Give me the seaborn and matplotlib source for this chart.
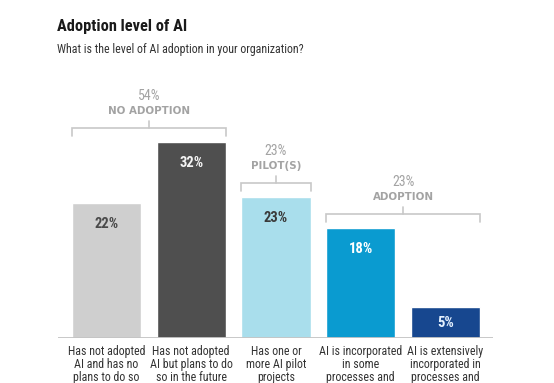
import matplotlib
matplotlib.use("Agg")
import matplotlib.pyplot as plt
import seaborn as sns
import pandas as pd

# ---- data ----
categories = [
    "Has not adopted\nAI and has no\nplans to do so",
    "Has not adopted\nAI but plans to do\nso in the future",
    "Has one or\nmore AI pilot\nprojects",
    "AI is incorporated\nin some\nprocesses and",
    "AI is extensively\nincorporated in\nprocesses and",
]
values = [22, 32, 23, 18, 5]
value_labels = ["22%", "32%", "23%", "18%", "5%"]
bar_colors = ["#cfcfcf", "#4f4f4f", "#a9deec", "#0a9bd0", "#17478f"]
label_colors = ["#4a4a4a", "#f4f4f4", "#3a3a3a", "#ffffff", "#e6f2ff"]

group_members = [[0, 1], [2], [3, 4]]
group_pcts = ["54%", "23%", "23%"]
group_names = ["NO ADOPTION", "PILOT(S)", "ADOPTION"]

title = "Adoption level of AI"
subtitle = "What is the level of AI adoption in your organization?"

# ---- style ----
sns.set_style("white")
cond = ["Liberation Sans Narrow", "Roboto Condensed", "Open Sans Condensed", "Liberation Sans", "DejaVu Sans"]
plt.rcParams["font.family"] = cond

df = pd.DataFrame({"cat": categories, "val": values})

fig = plt.figure(figsize=(5.54, 3.83), dpi=100)
ax = fig.add_axes([58 / 554, 45 / 383, 435 / 554, 258 / 383])

sns.barplot(data=df, x="cat", y="val", hue="cat", palette=bar_colors,
            legend=False, width=0.815, ax=ax, saturation=1)

ax.set_xlim(-0.572, 4.56)
ax.set_ylim(0, 42.12)
for s in ax.spines.values():
    s.set_visible(False)
ax.set_yticks([])
ax.set_xlabel("")
ax.set_ylabel("")
ax.axhline(0, color="#c4c4c4", lw=1.3, zorder=3)
ax.tick_params(axis="x", length=0, pad=5)
ax.set_xticks(range(len(categories)))
ax.set_xticklabels(categories, fontsize=8.6, color="#333333", linespacing=1.0)

# value labels inside bars
for i, (v, lab, c) in enumerate(zip(values, value_labels, label_colors)):
    y = max(v - 3.4, v / 2)
    ax.text(i, y, lab, ha="center", va="center", fontsize=10.5,
            fontweight="bold", color=c)

# group brackets
hw = 0.815 / 2
bc = "#c8c8c8"
tc = "#a3a3a3"
for members, pct, name in zip(group_members, group_pcts, group_names):
    top = max(values[m] for m in members)
    x0 = min(members) - hw
    x1 = max(members) + hw
    xc = (x0 + x1) / 2
    yh = top + 2.3
    ax.plot([x0, x0, x1, x1], [top + 1.0, yh, yh, top + 1.0], color=bc,
            lw=1.2, clip_on=False, solid_joinstyle="miter")
    ax.plot([xc, xc], [yh, top + 3.4], color=bc, lw=1.2, clip_on=False)
    ax.text(xc, top + 5.1, name, ha="center", va="center", fontsize=7.4,
            fontweight="bold", color=tc, family="DejaVu Sans", clip_on=False)
    ax.text(xc, top + 7.5, pct, ha="center", va="center", fontsize=10,
            color=tc, clip_on=False)

fig.text(57 / 554, 1 - 26 / 383, title, ha="left", va="center",
         fontsize=11.8, fontweight="bold", color="#1a1a1a")
fig.text(57 / 554, 1 - 49 / 383, subtitle, ha="left", va="center",
         fontsize=8.6, color="#333333")

fig.savefig("out.png", dpi=100, facecolor="white")
